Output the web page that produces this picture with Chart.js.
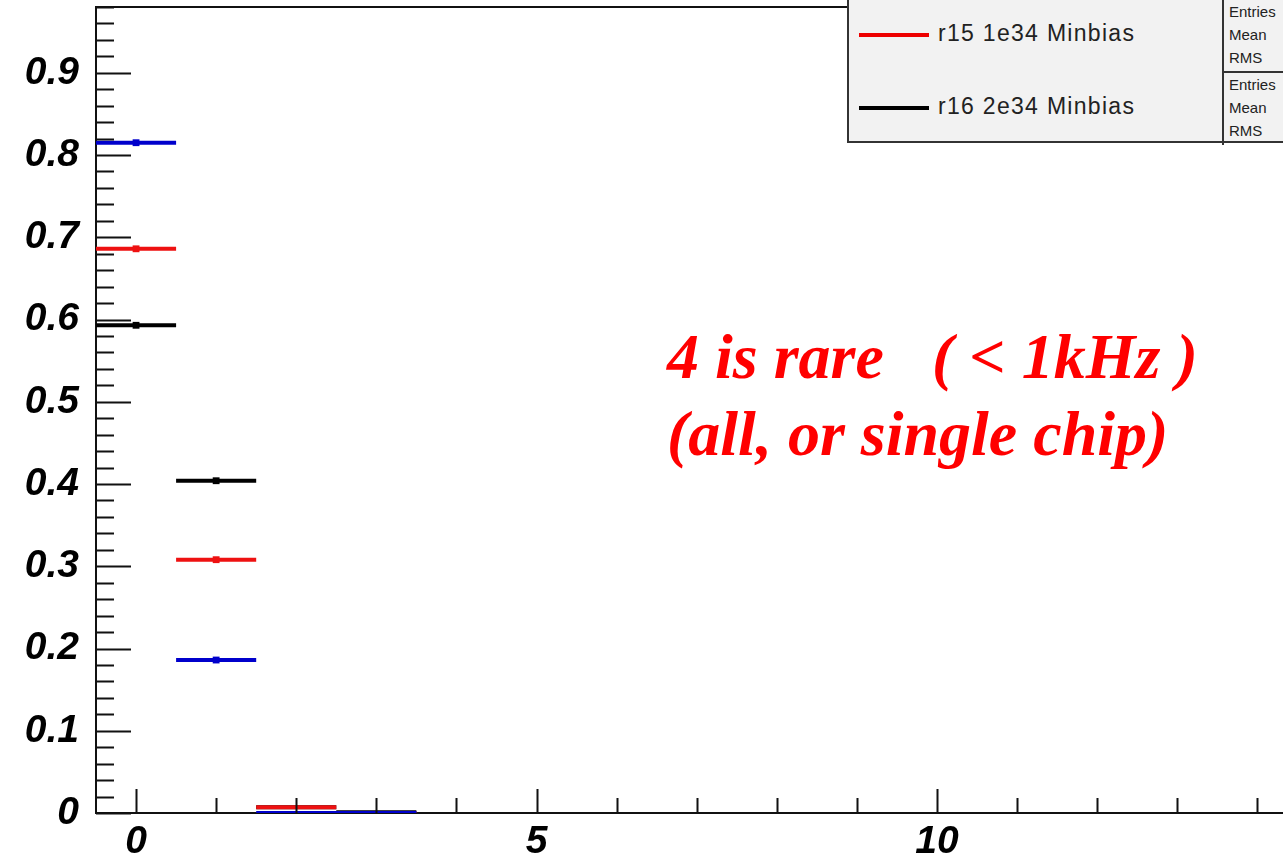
<!DOCTYPE html>
<html>
<head>
<meta charset="utf-8">
<script src="https://cdn.jsdelivr.net/npm/chart.js@4"></script>
<style>
  html, body { margin: 0; padding: 0; background: #fff; }
  #wrap { position: relative; width: 1283px; height: 858px; overflow: hidden; }
  #legendBox {
    position: absolute; left: 847px; top: -20px; width: 460px; height: 163px;
    background: #f2f2f2; border: 2px solid #333; box-sizing: border-box;
    font-family: "Liberation Sans", Arial, sans-serif;
  }
  .entry { position: absolute; left: 10px; font-size: 23px; letter-spacing: 1.3px; color: #222; }
  .entry span.swatch { display: inline-block; width: 70px; height: 4px; vertical-align: middle; margin-right: 9px; }
  #stats { position: absolute; left: 373px; top: 0; width: 100px; height: 163px; border-left: 2px solid #333; }
  .stat { position: absolute; left: 5px; font-size: 15px; line-height: 23px; color: #222; }
  #statSep { position: absolute; left: 0; top: 89px; width: 100%; border-top: 2px solid #333; }
  #note {
    position: absolute; left: 667px; top: 318px; color: #ff0000;
    font-family: "Liberation Serif", "Times New Roman", serif;
    font-weight: bold; font-style: italic; font-size: 64px; line-height: 77px; white-space: pre;
  }
</style>
</head>
<body>
<div id="wrap">
  <canvas id="histChart" width="1283" height="858"></canvas>
  <div id="legendBox">
    <div class="entry" style="top:38px"><span class="swatch" style="background:#ee0000"></span>r15 1e34 Minbias</div>
    <div class="entry" style="top:111px"><span class="swatch" style="background:#000"></span>r16 2e34 Minbias</div>
    <div id="stats">
      <div class="stat" style="top:18px">Entries<br>Mean<br>RMS</div>
      <div id="statSep"></div>
      <div class="stat" style="top:91px">Entries<br>Mean<br>RMS</div>
    </div>
  </div>
  <div id="note">4 is rare   ( &lt; 1kHz )
(all, or single chip)</div>
</div>
<script>
// bin centres (bin width 1)
const bins = [0, 1, 2, 3];

// fraction per bin
const blueValues = [0.815, 0.186, 0.0, 0.0];
const redValues = [0.686, 0.308, 0.007, 0.0];
const blackValues = [0.593, 0.404, 0.007, 0.001];

const yTicks = [0, 0.1, 0.2, 0.3, 0.4, 0.5, 0.6, 0.7, 0.8, 0.9];
const xTicks = [0, 5, 10];

// histogram as flat segments, one per bin, no vertical joins
function histPoints(values) {
  const pts = [];
  bins.forEach((c, i) => {
    pts.push({ x: c - 0.5, y: values[i] });
    pts.push({ x: c, y: values[i], centre: true });
    pts.push({ x: c + 0.5, y: values[i] });
    pts.push({ x: c + 0.5, y: null });
  });
  return pts;
}

function histDataset(label, values, color) {
  return {
    label: label,
    data: histPoints(values),
    borderColor: color,
    backgroundColor: color,
    borderWidth: 4,
    spanGaps: false,
    tension: 0,
    pointStyle: "rect",
    pointRadius: ctx => (ctx.raw && ctx.raw.centre && ctx.raw.y > 0.01 ? 2 : 0),
    pointHoverRadius: 0
  };
}

// ROOT-style inner ticks + top frame line
const frameTicks = {
  id: "frameTicks",
  afterDraw(chart) {
    const { ctx, chartArea: a, scales: { x, y } } = chart;
    ctx.save();
    ctx.strokeStyle = "#111";
    ctx.lineWidth = 2;
    ctx.beginPath();
    ctx.moveTo(a.left, a.top);
    ctx.lineTo(a.right, a.top);
    // y ticks: major 0.1, minor 0.02
    for (let k = 0; k <= 49; k++) {
      const v = k * 0.02;
      if (v > y.max) break;
      const py = Math.round(y.getPixelForValue(v)) + 0.5;
      const len = k % 5 === 0 ? 35 : 18;
      ctx.moveTo(a.left, py);
      ctx.lineTo(a.left + len, py);
    }
    // x ticks: major every 5, minor every 1
    for (let v = 0; v <= x.max; v++) {
      const px = Math.round(x.getPixelForValue(v)) + 0.5;
      const len = v % 5 === 0 ? 24 : 15;
      ctx.moveTo(px, a.bottom);
      ctx.lineTo(px, a.bottom - len);
    }
    ctx.stroke();
    ctx.restore();
  }
};

const tickFont = { family: "'Liberation Sans', Arial, sans-serif", size: 39, weight: "bold", style: "italic" };

new Chart(document.getElementById("histChart").getContext("2d"), {
  type: "line",
  data: {
    datasets: [
      histDataset("blue", blueValues, "#0000cc"),
      histDataset("r15 1e34 Minbias", redValues, "#ee1111"),
      histDataset("r16 2e34 Minbias", blackValues, "#000000")
    ]
  },
  options: {
    responsive: false,
    animation: false,
    layout: { padding: { top: 7, right: 0, left: 0, bottom: 0 } },
    plugins: { legend: { display: false }, tooltip: { enabled: false } },
    scales: {
      x: {
        type: "linear",
        min: -0.5,
        max: 14.32,
        afterBuildTicks: s => { s.ticks = xTicks.map(v => ({ value: v })); },
        afterFit: s => { s.height = 45; s.paddingLeft = 0; s.paddingRight = 0; },
        grid: { display: false, drawTicks: false },
        border: { display: true, color: "#111", width: 2 },
        ticks: { color: "#000", font: tickFont, padding: 6, maxRotation: 0, callback: v => String(v) }
      },
      y: {
        min: 0,
        max: 0.98,
        afterBuildTicks: s => { s.ticks = yTicks.map(v => ({ value: v })); },
        afterFit: s => { s.width = 96; s.paddingTop = 0; s.paddingBottom = 0; },
        grid: { display: false, drawTicks: false },
        border: { display: true, color: "#111", width: 2 },
        ticks: { color: "#000", font: tickFont, padding: 17, callback: v => (v === 0 ? "0" : v.toFixed(1)) }
      }
    }
  },
  plugins: [frameTicks]
});
</script>
</body>
</html>
